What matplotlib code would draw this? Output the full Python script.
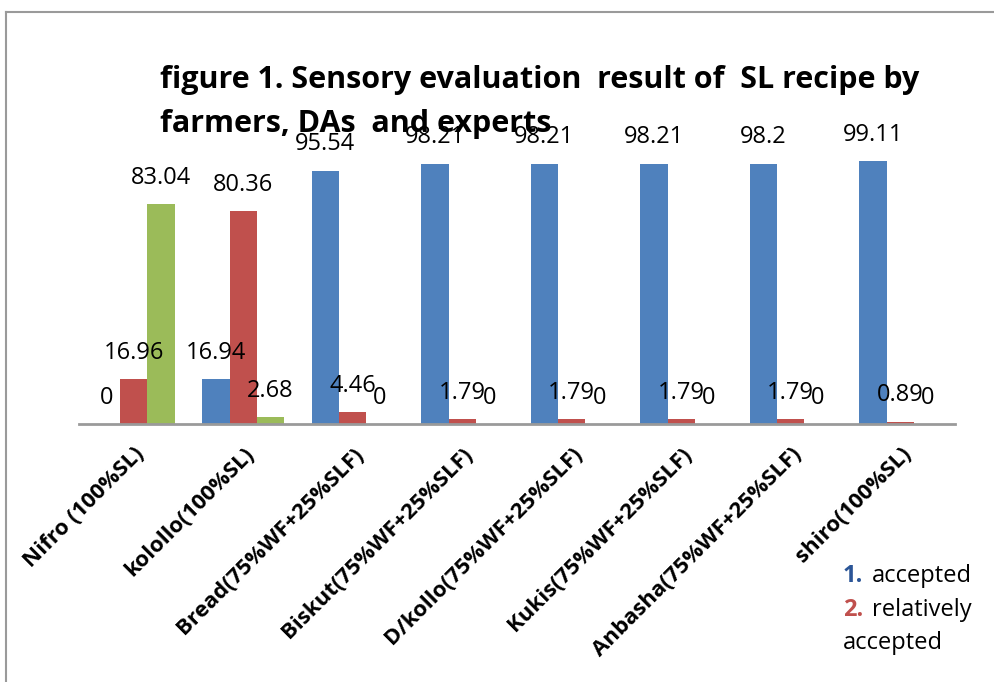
import matplotlib
matplotlib.use('Agg')
import matplotlib.pyplot as plt
import numpy as np

plt.rcParams['font.family'] = ['Open Sans', 'DejaVu Sans']

categories = ['Nifro (100%SL)', 'kolollo(100%SL)', 'Bread(75%WF+25%SLF)',
              'Biskut(75%WF+25%SLF)', 'D/kollo(75%WF+25%SLF)',
              'Kukis(75%WF+25%SLF)', 'Anbasha(75%WF+25%SLF)', 'shiro(100%SL)']
accepted = [0, 16.94, 95.54, 98.21, 98.21, 98.21, 98.2, 99.11]
relatively = [16.96, 80.36, 4.46, 1.79, 1.79, 1.79, 1.79, 0.89]
not_accepted = [83.04, 2.68, 0, 0, 0, 0, 0, 0]

W, H = 994, 682
fig = plt.figure(figsize=(W / 100, H / 100), dpi=100)

# outer chart-area frame (cut off at right and bottom)
fig.add_artist(plt.Line2D([6 / W, 6 / W], [0, 1 - 12 / H], color='#9a9a9a', lw=1.5))
fig.add_artist(plt.Line2D([6 / W, 1], [1 - 12 / H, 1 - 12 / H], color='#9a9a9a', lw=1.5))

# axes in pixel terms: baseline y=424, 100 units = 265 px
ax = fig.add_axes([79 / W, (H - 424) / H, (955 - 79) / W, 265 / H])
x = np.arange(len(categories))
bw = 0.25
series = [(accepted, '#4F81BD', -bw), (relatively, '#C0504D', 0), (not_accepted, '#9BBB59', bw)]
for vals, col, off in series:
    bars = ax.bar(x + off, vals, bw, color=col)
    for b, v in zip(bars, vals):
        ax.annotate(f'{v:g}', (b.get_x() + b.get_width() / 2, v), xytext=(0, 19),
                    textcoords='offset points', ha='center', va='center',
                    fontsize=17, annotation_clip=False)

ax.set_xlim(-0.5, len(categories) - 0.5)
ax.set_ylim(0, 100)
for s in ['top', 'left', 'right']:
    ax.spines[s].set_visible(False)
ax.spines['bottom'].set_color('#9a9a9a')
ax.spines['bottom'].set_linewidth(2)
ax.set_yticks([])
ax.set_xticks(x)
ax.set_xticklabels(categories, rotation=45, ha='right', rotation_mode='anchor',
                   fontsize=16, fontweight='bold')
ax.tick_params(axis='x', length=0, pad=14)

fig.text(160 / W, 1 - 80 / H, 'figure 1. Sensory evaluation  result of  SL recipe by',
         fontsize=22, fontweight='bold', va='center', ha='left')
fig.text(160 / W, 1 - 124 / H, 'farmers, DAs  and experts',
         fontsize=22, fontweight='bold', va='center', ha='left')

# legend drawn as text
fig.text(843 / W, 1 - 576 / H, '1.', color='#2B5597', fontsize=17, fontweight='bold', va='center')
fig.text(872 / W, 1 - 576 / H, 'accepted', fontsize=17, va='center')
fig.text(843 / W, 1 - 610 / H, '2.', color='#C0504D', fontsize=17, fontweight='bold', va='center')
fig.text(872 / W, 1 - 610 / H, 'relatively', fontsize=17, va='center')
fig.text(843 / W, 1 - 643 / H, 'accepted', fontsize=17, va='center')

fig.savefig('out.png', dpi=100)
